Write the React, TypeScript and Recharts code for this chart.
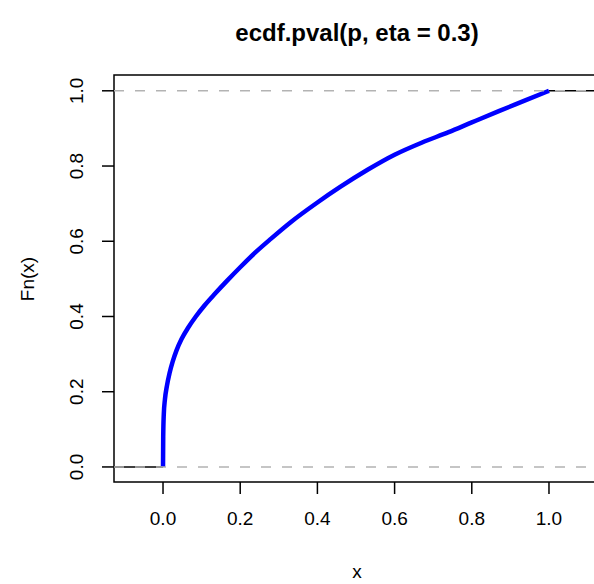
import React from 'react';
import { ComposedChart, Line, XAxis, YAxis, ReferenceLine, ReferenceArea } from 'recharts';

// ecdf values
const xs = [0, 0.0005, 0.002, 0.005, 0.01, 0.017, 0.025, 0.035, 0.048, 0.065, 0.085, 0.108, 0.135, 0.165, 0.2, 0.24, 0.28, 0.33, 0.4, 0.46, 0.53, 0.6, 0.67, 0.74, 0.8, 0.87, 0.94, 1.0];
const fn = [0, 0.08, 0.14, 0.18, 0.215, 0.25, 0.28, 0.31, 0.34, 0.37, 0.4, 0.43, 0.461, 0.494, 0.531, 0.571, 0.607, 0.65, 0.703, 0.745, 0.79, 0.83, 0.862, 0.89, 0.916, 0.946, 0.975, 1.0];
const xTicks = [0, 0.2, 0.4, 0.6, 0.8, 1.0];
const yTicks = [0, 0.2, 0.4, 0.6, 0.8, 1.0];
const xLim = [-0.127, 1.127];
const yLim = [-0.04, 1.042];

const curve = xs.map((x, i) => ({ x, y: fn[i] }));
const leftStep = [{ x: xLim[0], y: 0 }, { x: 0, y: 0 }];
const rightStep = [{ x: 1, y: 1 }, { x: xLim[1], y: 1 }];

const FONT = '"Liberation Sans", Arial, Helvetica, sans-serif';

function YTick({ y, payload }: any) {
  return (
    <text x={77} y={y} transform={`rotate(-90, 77, ${y})`} textAnchor="middle" dominantBaseline="central"
      fontSize={19} fontFamily={FONT} fill="#000">
      {payload.value.toFixed(1)}
    </text>
  );
}

export default function App() {
  return (
    <div style={{ position: 'absolute', left: 0, top: 0, width: 594, height: 584, overflow: 'hidden', background: '#fff', fontFamily: FONT }}>
      <div style={{ position: 'absolute', left: 0, width: 714, top: 19, textAlign: 'center', fontSize: 24, fontWeight: 'bold' }}>
        ecdf.pval(p, eta = 0.3)
      </div>
      <div style={{ position: 'absolute', left: 0, width: 714, top: 561, textAlign: 'center', fontSize: 19 }}>x</div>
      <div style={{ position: 'absolute', left: 28, top: 279, fontSize: 19, transform: 'translate(-50%, -50%) rotate(-90deg)', whiteSpace: 'nowrap' }}>
        Fn(x)
      </div>
      <ComposedChart width={610} height={584} margin={{ top: 75, right: 12, bottom: 0, left: 0 }}>
        <XAxis dataKey="x" type="number" domain={xLim} allowDataOverflow ticks={xTicks} height={102}
          axisLine={false} tickSize={12} tickMargin={18} tickLine={{ stroke: '#000', strokeWidth: 1.5 }}
          tickFormatter={(v: number) => v.toFixed(1)} tick={{ fill: '#000', fontSize: 19, fontFamily: FONT }} />
        <YAxis type="number" domain={yLim} allowDataOverflow ticks={yTicks} width={114}
          axisLine={false} tickSize={12} tickLine={{ stroke: '#000', strokeWidth: 1.5 }} tick={<YTick />} />
        <ReferenceArea x1={xLim[0]} x2={xLim[1]} y1={yLim[0]} y2={yLim[1]} fill="none" stroke="#000" strokeWidth={1.5} fillOpacity={0} />
        <Line data={leftStep} dataKey="y" stroke="#000" strokeWidth={1.5} dot={false} isAnimationActive={false} />
        <Line data={rightStep} dataKey="y" stroke="#000" strokeWidth={1.5} dot={false} isAnimationActive={false} />
        <Line data={curve} dataKey="y" type="monotone" stroke="#0000ff" strokeWidth={4.5} dot={false} isAnimationActive={false} />
        <ReferenceLine y={0} stroke="#b3b3b3" strokeWidth={1.5} strokeDasharray="10 11" />
        <ReferenceLine y={1} stroke="#b3b3b3" strokeWidth={1.5} strokeDasharray="10 11" />
      </ComposedChart>
    </div>
  );
}
